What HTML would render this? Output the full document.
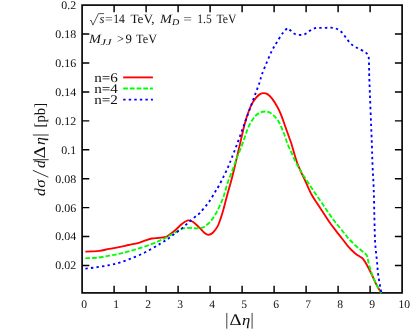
<!DOCTYPE html><html><head><meta charset="utf-8"><title>plot</title>
<style>html,body{margin:0;padding:0;background:#fff;}svg{display:block;will-change:transform;}text{font-family:"Liberation Serif",serif;fill:#111;text-rendering:geometricPrecision;}</style></head><body>
<svg width="411" height="330" viewBox="0 0 411 330">
<rect x="0" y="0" width="411" height="330" fill="#fff"/>
<g fill="none" stroke="#000" stroke-width="1.65">
<rect x="82.10" y="5.10" width="320.00" height="287.80"/>
<path d="M114.10,292.90V285.70 M114.10,5.10V12.30 M146.10,292.90V285.70 M146.10,5.10V12.30 M178.10,292.90V285.70 M178.10,5.10V12.30 M210.10,292.90V285.70 M210.10,5.10V12.30 M242.10,292.90V285.70 M242.10,5.10V12.30 M274.10,292.90V285.70 M274.10,5.10V12.30 M306.10,292.90V285.70 M306.10,5.10V12.30 M338.10,292.90V285.70 M338.10,5.10V12.30 M370.10,292.90V285.70 M370.10,5.10V12.30 M82.10,265.50H89.30 M402.10,265.50H394.90 M82.10,236.57H89.30 M402.10,236.57H394.90 M82.10,207.64H89.30 M402.10,207.64H394.90 M82.10,178.71H89.30 M402.10,178.71H394.90 M82.10,149.78H89.30 M402.10,149.78H394.90 M82.10,120.85H89.30 M402.10,120.85H394.90 M82.10,91.92H89.30 M402.10,91.92H394.90 M82.10,62.99H89.30 M402.10,62.99H394.90 M82.10,34.06H89.30 M402.10,34.06H394.90 " stroke-width="1.45"/>
</g>
<g fill="none" stroke-linejoin="round">
<path d="M85.40,251.60 C86.50,251.57 89.65,251.52 92.00,251.40 C94.35,251.28 96.63,251.32 99.50,250.90 C102.37,250.48 105.97,249.52 109.20,248.90 C112.43,248.28 115.65,247.85 118.90,247.20 C122.15,246.55 125.25,245.77 128.70,245.00 C132.15,244.23 136.77,243.37 139.60,242.60 C142.43,241.83 143.67,241.08 145.70,240.40 C147.73,239.72 149.77,238.90 151.80,238.50 C153.83,238.10 156.03,238.18 157.90,238.00 C159.77,237.82 161.43,237.70 163.00,237.40 C164.57,237.10 165.37,237.30 167.30,236.20 C169.23,235.10 172.17,232.83 174.60,230.80 C177.03,228.77 179.67,225.73 181.90,224.00 C184.13,222.27 186.18,220.77 188.00,220.40 C189.82,220.03 190.98,220.67 192.80,221.80 C194.62,222.93 196.93,225.33 198.90,227.20 C200.87,229.07 203.02,231.72 204.60,233.00 C206.18,234.28 207.03,234.93 208.40,234.90 C209.77,234.87 211.27,234.22 212.80,232.80 C214.33,231.38 216.30,228.77 217.60,226.40 C218.90,224.03 219.62,221.47 220.60,218.60 C221.58,215.73 222.32,213.42 223.50,209.20 C224.68,204.98 226.23,198.72 227.70,193.30 C229.17,187.88 230.90,182.12 232.30,176.70 C233.70,171.28 235.05,165.25 236.10,160.80 C237.15,156.35 237.77,153.60 238.60,150.00 C239.43,146.40 240.05,143.65 241.10,139.20 C242.15,134.75 243.63,127.97 244.90,123.30 C246.17,118.63 247.43,114.60 248.70,111.20 C249.97,107.80 251.25,105.15 252.50,102.90 C253.75,100.65 255.02,99.12 256.20,97.70 C257.38,96.28 258.35,95.17 259.60,94.40 C260.85,93.63 262.33,93.10 263.70,93.10 C265.07,93.10 266.43,93.53 267.80,94.40 C269.17,95.27 270.62,96.75 271.90,98.30 C273.18,99.85 274.33,101.78 275.50,103.70 C276.67,105.62 277.85,107.63 278.90,109.80 C279.95,111.97 280.82,114.13 281.80,116.70 C282.78,119.27 283.45,121.40 284.80,125.20 C286.15,129.00 288.73,136.20 289.90,139.50 C291.07,142.80 291.05,142.57 291.80,145.00 C292.55,147.43 293.48,151.07 294.40,154.10 C295.32,157.13 296.17,160.17 297.30,163.20 C298.43,166.23 299.78,169.15 301.20,172.30 C302.62,175.45 304.10,178.45 305.80,182.10 C307.50,185.75 309.43,190.53 311.40,194.20 C313.37,197.87 315.57,200.93 317.60,204.10 C319.63,207.27 321.58,210.13 323.60,213.20 C325.62,216.27 327.67,219.60 329.70,222.50 C331.73,225.40 333.78,227.98 335.80,230.60 C337.82,233.22 339.72,235.52 341.80,238.20 C343.88,240.88 346.10,244.18 348.30,246.70 C350.50,249.22 353.05,251.63 355.00,253.30 C356.95,254.97 358.67,255.77 360.00,256.70 C361.33,257.63 361.80,257.43 363.00,258.90 C364.20,260.37 365.78,262.95 367.20,265.50 C368.62,268.05 370.07,271.23 371.50,274.20 C372.93,277.17 374.40,280.53 375.80,283.30 C377.20,286.07 379.00,289.15 379.90,290.80 C380.80,292.45 380.98,292.80 381.20,293.20" stroke="#ff0000" stroke-width="1.85"/>
<path d="M85.40,258.20 C87.33,258.12 93.03,258.12 97.00,257.70 C100.97,257.28 105.55,256.35 109.20,255.70 C112.85,255.05 115.65,254.52 118.90,253.80 C122.15,253.08 125.25,252.33 128.70,251.40 C132.15,250.47 135.95,249.35 139.60,248.20 C143.25,247.05 147.15,245.80 150.60,244.50 C154.05,243.20 157.52,241.67 160.30,240.40 C163.08,239.13 164.92,238.17 167.30,236.90 C169.68,235.63 172.17,234.13 174.60,232.80 C177.03,231.47 179.47,229.72 181.90,228.90 C184.33,228.08 186.77,227.98 189.20,227.90 C191.63,227.82 194.27,228.45 196.50,228.40 C198.73,228.35 201.02,228.07 202.60,227.60 C204.18,227.13 204.53,226.82 206.00,225.60 C207.47,224.38 209.75,222.32 211.40,220.30 C213.05,218.28 214.52,215.90 215.90,213.50 C217.28,211.10 218.43,208.68 219.70,205.90 C220.97,203.12 222.17,200.67 223.50,196.80 C224.83,192.93 226.23,187.07 227.70,182.70 C229.17,178.33 230.90,174.38 232.30,170.60 C233.70,166.82 234.53,164.13 236.10,160.00 C237.67,155.87 240.08,150.10 241.70,145.80 C243.32,141.50 244.70,137.27 245.80,134.20 C246.90,131.13 247.37,129.53 248.30,127.40 C249.23,125.27 250.25,123.28 251.40,121.40 C252.55,119.52 253.82,117.55 255.20,116.10 C256.58,114.65 258.07,113.47 259.70,112.70 C261.33,111.93 263.35,111.53 265.00,111.50 C266.65,111.47 268.10,111.77 269.60,112.50 C271.10,113.23 272.67,114.65 274.00,115.90 C275.33,117.15 276.53,118.48 277.60,120.00 C278.67,121.52 279.48,123.10 280.40,125.00 C281.32,126.90 282.27,129.35 283.10,131.40 C283.93,133.45 284.70,135.30 285.40,137.30 C286.10,139.30 286.27,140.80 287.30,143.40 C288.33,146.00 290.23,149.85 291.60,152.90 C292.97,155.95 294.23,159.10 295.50,161.70 C296.77,164.30 297.75,165.98 299.20,168.50 C300.65,171.02 302.35,173.90 304.20,176.80 C306.05,179.70 308.33,182.93 310.30,185.90 C312.27,188.87 314.03,191.70 316.00,194.60 C317.97,197.50 320.07,200.33 322.10,203.30 C324.13,206.27 326.18,209.48 328.20,212.40 C330.22,215.32 332.18,218.15 334.20,220.80 C336.22,223.45 338.27,225.78 340.30,228.30 C342.33,230.82 344.78,233.95 346.40,235.90 C348.02,237.85 348.43,238.35 350.00,240.00 C351.57,241.65 353.85,244.00 355.80,245.80 C357.75,247.60 359.88,249.22 361.70,250.80 C363.52,252.38 365.60,253.48 366.70,255.30 C367.80,257.12 367.73,259.53 368.30,261.70 C368.87,263.87 369.40,265.95 370.10,268.30 C370.80,270.65 371.47,273.15 372.50,275.80 C373.53,278.45 375.00,281.58 376.30,284.20 C377.60,286.82 379.48,290.00 380.30,291.50 C381.12,293.00 381.05,292.92 381.20,293.20" stroke="#00ff00" stroke-width="1.85" stroke-dasharray="4.7 2"/>
<path d="M85.40,268.60 C87.33,268.37 93.03,267.77 97.00,267.20 C100.97,266.63 105.55,265.93 109.20,265.20 C112.85,264.47 115.65,263.77 118.90,262.80 C122.15,261.83 125.25,260.70 128.70,259.40 C132.15,258.10 135.95,256.67 139.60,255.00 C143.25,253.33 147.15,251.30 150.60,249.40 C154.05,247.50 157.52,245.28 160.30,243.60 C163.08,241.92 164.92,240.95 167.30,239.30 C169.68,237.65 172.17,235.52 174.60,233.70 C177.03,231.88 179.47,230.38 181.90,228.40 C184.33,226.42 186.77,223.92 189.20,221.80 C191.63,219.68 194.70,217.18 196.50,215.70 C198.30,214.22 198.40,214.58 200.00,212.90 C201.60,211.22 204.33,207.83 206.10,205.60 C207.87,203.37 209.08,201.80 210.60,199.50 C212.12,197.20 213.87,194.00 215.20,191.80 C216.53,189.60 217.15,188.95 218.60,186.30 C220.05,183.65 222.25,179.27 223.90,175.90 C225.55,172.53 227.22,169.03 228.50,166.10 C229.78,163.17 230.27,161.70 231.60,158.30 C232.93,154.90 234.87,150.03 236.50,145.70 C238.13,141.37 239.78,136.77 241.40,132.30 C243.02,127.83 244.58,123.37 246.20,118.90 C247.82,114.43 249.47,109.95 251.10,105.50 C252.73,101.05 254.58,96.05 256.00,92.20 C257.42,88.35 258.62,85.35 259.60,82.40 C260.58,79.45 260.70,77.85 261.90,74.50 C263.10,71.15 265.18,66.15 266.80,62.30 C268.42,58.45 269.98,54.65 271.60,51.40 C273.22,48.15 274.67,45.82 276.50,42.80 C278.33,39.78 280.82,35.75 282.60,33.30 C284.38,30.85 286.43,28.97 287.20,28.10 C287.77,28.50 289.40,29.55 290.60,30.50 C291.80,31.45 293.02,33.07 294.40,33.80 C295.78,34.53 297.22,34.80 298.90,34.90 C300.58,35.00 302.65,35.12 304.50,34.40 C306.35,33.68 308.25,31.63 310.00,30.60 C311.75,29.57 313.33,28.65 315.00,28.20 C316.67,27.75 318.17,27.97 320.00,27.90 C321.83,27.83 324.13,27.83 326.00,27.80 C327.87,27.77 329.55,27.58 331.20,27.70 C332.85,27.82 334.38,27.97 335.90,28.50 C337.42,29.03 338.93,29.78 340.30,30.90 C341.67,32.02 342.92,33.73 344.10,35.20 C345.28,36.67 346.27,38.27 347.40,39.70 C348.53,41.13 349.55,42.58 350.90,43.80 C352.25,45.02 353.90,46.05 355.50,47.00 C357.10,47.95 358.87,48.62 360.50,49.50 C362.13,50.38 364.12,51.48 365.30,52.30 C366.48,53.12 367.03,53.53 367.60,54.40 C368.17,55.27 368.48,56.17 368.70,57.50 C368.92,58.83 368.88,60.62 368.95,62.40 C369.02,64.18 369.03,65.12 369.10,68.20 C369.18,71.28 368.97,68.93 369.40,80.90 C369.83,92.87 371.18,126.10 371.70,140.00 C372.22,153.90 372.17,156.18 372.50,164.30 C372.83,172.42 373.38,179.77 373.70,188.70 C374.02,197.63 374.18,209.35 374.40,217.90 C374.62,226.45 374.77,234.65 375.00,240.00 C375.23,245.35 375.47,246.38 375.80,250.00 C376.13,253.62 376.63,257.82 377.00,261.70 C377.37,265.58 377.52,269.42 378.00,273.30 C378.48,277.18 379.32,281.68 379.90,285.00 C380.48,288.32 381.23,291.83 381.50,293.20" stroke="#0000ff" stroke-width="1.85" stroke-dasharray="2.4 3.15"/>
<path d="M123.2,77.4H152.9" stroke="#ff0000" stroke-width="1.85"/>
<path d="M123.2,88.5H152.9" stroke="#00ff00" stroke-width="1.85" stroke-dasharray="4.7 2"/>
<path d="M123.2,99.65H152.9" stroke="#0000ff" stroke-width="1.85" stroke-dasharray="2.4 3.15"/>
</g>
<g font-size="11.6" text-anchor="end">
<text x="76.2" y="269.40" textLength="21.0" lengthAdjust="spacingAndGlyphs">0.02</text>
<text x="76.2" y="240.47" textLength="21.0" lengthAdjust="spacingAndGlyphs">0.04</text>
<text x="76.2" y="211.54" textLength="21.0" lengthAdjust="spacingAndGlyphs">0.06</text>
<text x="76.2" y="182.61" textLength="21.0" lengthAdjust="spacingAndGlyphs">0.08</text>
<text x="76.2" y="153.68" textLength="14.9" lengthAdjust="spacingAndGlyphs">0.1</text>
<text x="76.2" y="124.75" textLength="21.0" lengthAdjust="spacingAndGlyphs">0.12</text>
<text x="76.2" y="95.82" textLength="21.0" lengthAdjust="spacingAndGlyphs">0.14</text>
<text x="76.2" y="66.89" textLength="21.0" lengthAdjust="spacingAndGlyphs">0.16</text>
<text x="76.2" y="37.96" textLength="21.0" lengthAdjust="spacingAndGlyphs">0.18</text>
<text x="76.2" y="9.03" textLength="14.9" lengthAdjust="spacingAndGlyphs">0.2</text>
</g>
<g font-size="11.6" text-anchor="middle">
<text x="84.20" y="308.1">0</text>
<text x="116.20" y="308.1">1</text>
<text x="148.20" y="308.1">2</text>
<text x="180.20" y="308.1">3</text>
<text x="212.20" y="308.1">4</text>
<text x="244.20" y="308.1">5</text>
<text x="276.20" y="308.1">6</text>
<text x="308.20" y="308.1">7</text>
<text x="340.20" y="308.1">8</text>
<text x="372.20" y="308.1">9</text>
<text x="404.20" y="308.1" textLength="11.6" lengthAdjust="spacingAndGlyphs">10</text>
</g>
<g font-size="13.2">
<text x="94.2" y="82.3" textLength="23.7" lengthAdjust="spacingAndGlyphs">n=6</text>
<text x="94.2" y="93.2" textLength="23.7" lengthAdjust="spacingAndGlyphs">n=4</text>
<text x="94.2" y="103.8" textLength="23.7" lengthAdjust="spacingAndGlyphs">n=2</text>
</g>
<g font-size="12.8">
<path d="M89.9,20.9 l1.1,-0.8 l1.9,5.0 l5.6,-11.5 h5.6" fill="none" stroke="#111" stroke-width="0.7"/>
<text x="99.5" y="23.1" font-style="italic">s</text>
<text x="105" y="23.1" textLength="7.8" lengthAdjust="spacingAndGlyphs">=</text>
<text x="113.3" y="23.1" textLength="11.6" lengthAdjust="spacingAndGlyphs">14</text>
<text x="130.4" y="23.1" textLength="24.3" lengthAdjust="spacingAndGlyphs">TeV,</text>
<text x="160.1" y="23.1" font-style="italic" textLength="12" lengthAdjust="spacingAndGlyphs">M</text>
<text x="171.9" y="24.6" font-style="italic" font-size="8.8" textLength="7.3" lengthAdjust="spacingAndGlyphs">D</text>
<text x="183.3" y="23.1" textLength="8.7" lengthAdjust="spacingAndGlyphs">=</text>
<text x="197.3" y="23.1" textLength="14.3" lengthAdjust="spacingAndGlyphs">1.5</text>
<text x="216.4" y="23.1" textLength="20.1" lengthAdjust="spacingAndGlyphs">TeV</text>
<text x="88.9" y="42.8" font-style="italic" textLength="12" lengthAdjust="spacingAndGlyphs">M</text>
<text x="100.4" y="44.6" font-style="italic" font-size="8.8" textLength="11.1" lengthAdjust="spacingAndGlyphs">JJ</text>
<text x="117.1" y="42.8" textLength="6.9" lengthAdjust="spacingAndGlyphs">&gt;</text>
<text x="125.6" y="42.8">9</text>
<text x="136.1" y="42.8" textLength="20.9" lengthAdjust="spacingAndGlyphs">TeV</text>
</g>
<g font-size="15">
<path d="M226.8,312.9V328.7 M252.1,312.9V328.7" stroke="#111" stroke-width="0.8" fill="none"/>
<text x="229.4" y="324.7" font-size="16.4" textLength="12" lengthAdjust="spacingAndGlyphs">&#916;</text>
<text x="242" y="324.7" font-style="italic" textLength="8.3" lengthAdjust="spacingAndGlyphs">&#951;</text>
</g>
<g font-size="15.2" transform="translate(44.5,196.7) rotate(-90)">
<text x="0.6" y="0" font-style="italic" textLength="7.8" lengthAdjust="spacingAndGlyphs">d</text>
<text x="9.0" y="0" font-style="italic" textLength="8.2" lengthAdjust="spacingAndGlyphs">&#963;</text>
<text x="28.6" y="0" font-style="italic" textLength="7.8" lengthAdjust="spacingAndGlyphs">d</text>
<path d="M19.5,3.9L26.4,-11.7 M37.0,-11.6V4.2 M61.7,-11.6V4.2" stroke="#111" stroke-width="0.85" fill="none"/>
<text x="38.3" y="0" font-size="16.4" textLength="12.2" lengthAdjust="spacingAndGlyphs">&#916;</text>
<text x="51.8" y="0" font-style="italic" textLength="8.0" lengthAdjust="spacingAndGlyphs">&#951;</text>
<text x="69.3" y="0" textLength="24.5" lengthAdjust="spacingAndGlyphs">[pb]</text>
</g>
</svg></body></html>
